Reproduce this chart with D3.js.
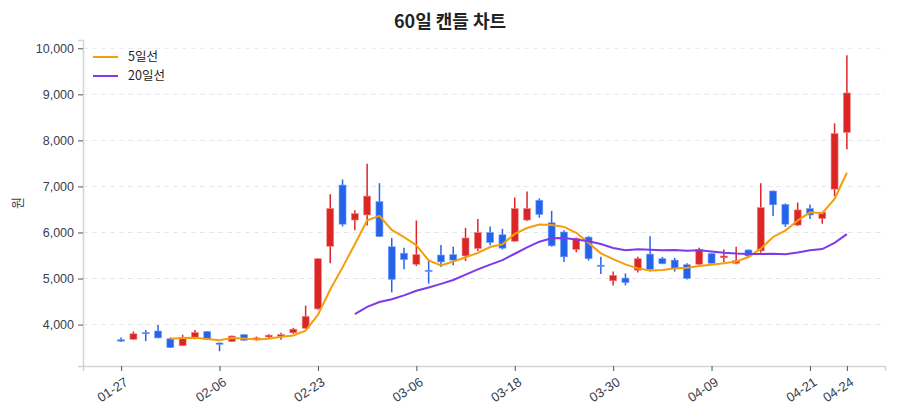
<!DOCTYPE html>
<html>
<head>
<meta charset="utf-8">
<script src="https://cdn.jsdelivr.net/npm/d3@7"></script>
<style>
  body { margin: 0; background: #fff; }
  svg { display: block; font-family: "Noto Sans CJK KR", "Noto Sans", sans-serif; }
</style>
</head>
<body>
<div id="chart"></div>
<script>
// trading days (2026), MM-DD
var dates = ['01-27','01-28','01-29','01-30','02-02','02-03','02-04','02-05','02-06','02-09',
  '02-10','02-11','02-12','02-13','02-19','02-20','02-23','02-24','02-25','02-26',
  '02-27','03-03','03-04','03-05','03-06','03-09','03-10','03-11','03-12','03-13',
  '03-16','03-17','03-18','03-19','03-20','03-23','03-24','03-25','03-26','03-27',
  '03-30','03-31','04-01','04-02','04-03','04-06','04-07','04-08','04-09','04-10',
  '04-13','04-14','04-15','04-16','04-17','04-20','04-21','04-22','04-23','04-24'];

var opens = [3670,3680,3830,3860,3690,3540,3710,3850,3600,3630,
  3780,3680,3730,3740,3820,3920,4340,5700,7030,6270,
  6380,6670,5690,5550,5310,5180,5510,5520,5490,5650,
  6000,5950,5810,6270,6700,6210,6010,5630,5900,5290,
  4950,5010,5180,5530,5430,5400,5300,5310,5540,5450,
  5330,5620,5600,6900,6610,6160,6520,6300,6940,8170];
var highs = [3720,3850,3880,3990,3720,3780,3880,3860,3610,3760,
  3790,3740,3790,3820,3930,4410,5440,6830,7150,6480,
  7490,7070,5880,5670,6260,5380,5730,5690,6100,6290,
  6130,6080,6760,6890,6740,6470,6050,5890,5920,5470,
  5150,5110,5470,5920,5470,5450,5330,5670,5560,5630,
  5690,5630,7070,6910,6630,6650,6610,6450,8370,9850];
var lows = [3620,3670,3640,3700,3490,3530,3680,3670,3420,3620,
  3650,3650,3700,3670,3800,3900,4320,5330,6130,6050,
  6150,5900,4700,5200,5270,4890,5250,5290,5380,5600,
  5720,5630,5800,6250,6320,5690,5360,5570,5390,5100,
  4850,4850,5130,5150,5310,5150,4980,5290,5320,5360,
  5310,5470,5560,6360,6120,6140,6290,6190,6790,7810];
var closes = [3640,3800,3800,3710,3500,3720,3830,3680,3570,3750,
  3660,3710,3770,3780,3900,4180,5430,6520,6180,6410,
  6790,5910,4980,5410,5520,5150,5360,5400,5880,6000,
  5780,5660,6520,6520,6390,5710,5470,5870,5430,5260,
  5070,4910,5430,5200,5320,5220,5000,5630,5330,5490,
  5390,5490,6540,6600,6180,6490,6380,6440,8150,9030];

var tickIdx = [0, 8, 16, 24, 32, 40, 48, 56, 59];
var yTicks = [4000, 5000, 6000, 7000, 8000, 9000, 10000];

var upColor = '#dc2626', downColor = '#2563eb';
var ma5Color = '#f59e0b', ma20Color = '#7c3aed';

function movingAvg(arr, n) {
  return arr.map(function (d, i) {
    if (i < n - 1) return null;
    return d3.mean(arr.slice(i - n + 1, i + 1));
  });
}
var ma5 = movingAvg(closes, 5);
var ma20 = movingAvg(closes, 20);

var W = 900, H = 420;
var padding = { top: 40, right: 15, bottom: 54, left: 83 };

var svg = d3.select('#chart').append('svg')
  .attr('width', W).attr('height', H);

var xScale = d3.scaleLinear()
  .domain([-3.1, dates.length - 1 + 3.1])
  .range([padding.left, W - padding.right]);
var yScale = d3.scaleLinear()
  .domain([3100, 10180])
  .range([H - padding.bottom, padding.top]);

// grid
svg.append('g').selectAll('line').data(yTicks).enter()
  .append('line')
  .attr('x1', padding.left).attr('x2', W - padding.right)
  .attr('y1', function (d) { return yScale(d); })
  .attr('y2', function (d) { return yScale(d); })
  .attr('stroke', '#e5e7eb').attr('stroke-width', 1)
  .attr('stroke-dasharray', '5,4');

// axes
var yAxis = svg.append('g')
  .attr('transform', 'translate(' + padding.left + ',0)')
  .call(d3.axisLeft(yScale).tickValues(yTicks).tickFormat(d3.format(',')).tickSize(5).tickPadding(4));
var xAxis = svg.append('g')
  .attr('transform', 'translate(0,' + (H - padding.bottom) + ')')
  .call(d3.axisBottom(xScale).tickValues(tickIdx)
    .tickFormat(function (d) { return dates[d]; }).tickSize(5).tickPadding(4));

[xAxis, yAxis].forEach(function (ax) {
  ax.select('.domain').attr('stroke', '#d1d5db').attr('stroke-width', 1.5);
  ax.selectAll('.tick line').attr('stroke', '#4b5563');
  ax.selectAll('.tick text').attr('fill', '#374151').style('font-size', '12.5px');
});
xAxis.selectAll('.tick text')
  .style('font-size', '13px')
  .attr('text-anchor', 'end')
  .attr('dx', '-0.3em').attr('dy', '0.8em')
  .attr('transform', 'rotate(-33)');

// candles
var w = 7;
var candles = svg.append('g').selectAll('g').data(closes).enter().append('g');
candles.append('line')
  .attr('x1', function (d, i) { return xScale(i); })
  .attr('x2', function (d, i) { return xScale(i); })
  .attr('y1', function (d, i) { return yScale(highs[i]); })
  .attr('y2', function (d, i) { return yScale(lows[i]); })
  .attr('stroke', function (d, i) { return d >= opens[i] ? upColor : downColor; })
  .attr('stroke-width', 1.5);
candles.append('rect')
  .attr('x', function (d, i) { return xScale(i) - w / 2; })
  .attr('width', w)
  .attr('y', function (d, i) { return yScale(Math.max(d, opens[i])); })
  .attr('height', function (d, i) { return Math.max(1.2, Math.abs(yScale(d) - yScale(opens[i]))); })
  .attr('fill', function (d, i) { return d >= opens[i] ? upColor : downColor; })
  .attr('stroke', function (d, i) { return d >= opens[i] ? '#f08a8a' : '#7aa2f3'; })
  .attr('stroke-width', 0.6);

// moving averages
var line = d3.line()
  .defined(function (d) { return d !== null; })
  .x(function (d, i) { return xScale(i); })
  .y(function (d) { return yScale(d); });
svg.append('path').datum(ma5)
  .attr('d', line).attr('fill', 'none')
  .attr('stroke', ma5Color).attr('stroke-width', 2);
svg.append('path').datum(ma20)
  .attr('d', line).attr('fill', 'none')
  .attr('stroke', ma20Color).attr('stroke-width', 2);

// legend
var legend = svg.append('g').attr('transform', 'translate(93,57)');
[['5일선', ma5Color], ['20일선', ma20Color]].forEach(function (item, i) {
  legend.append('line')
    .attr('x1', 0).attr('x2', 25).attr('y1', i * 19).attr('y2', i * 19)
    .attr('stroke', item[1]).attr('stroke-width', 2);
  legend.append('text')
    .attr('x', 35).attr('y', i * 19).attr('dy', '0.35em')
    .attr('fill', '#222').style('font-size', '12.5px')
    .text(item[0]);
});

// title and y label
svg.append('text')
  .attr('x', 450).attr('y', 28).attr('text-anchor', 'middle')
  .style('font-size', '18px').style('font-weight', 'bold').attr('fill', '#222')
  .text('60일 캔들 차트');
svg.append('text')
  .attr('transform', 'translate(22,' + ((padding.top + H - padding.bottom) / 2) + ') rotate(-90)')
  .attr('text-anchor', 'middle')
  .style('font-size', '13px').attr('fill', '#374151')
  .text('원');
</script>
</body>
</html>
